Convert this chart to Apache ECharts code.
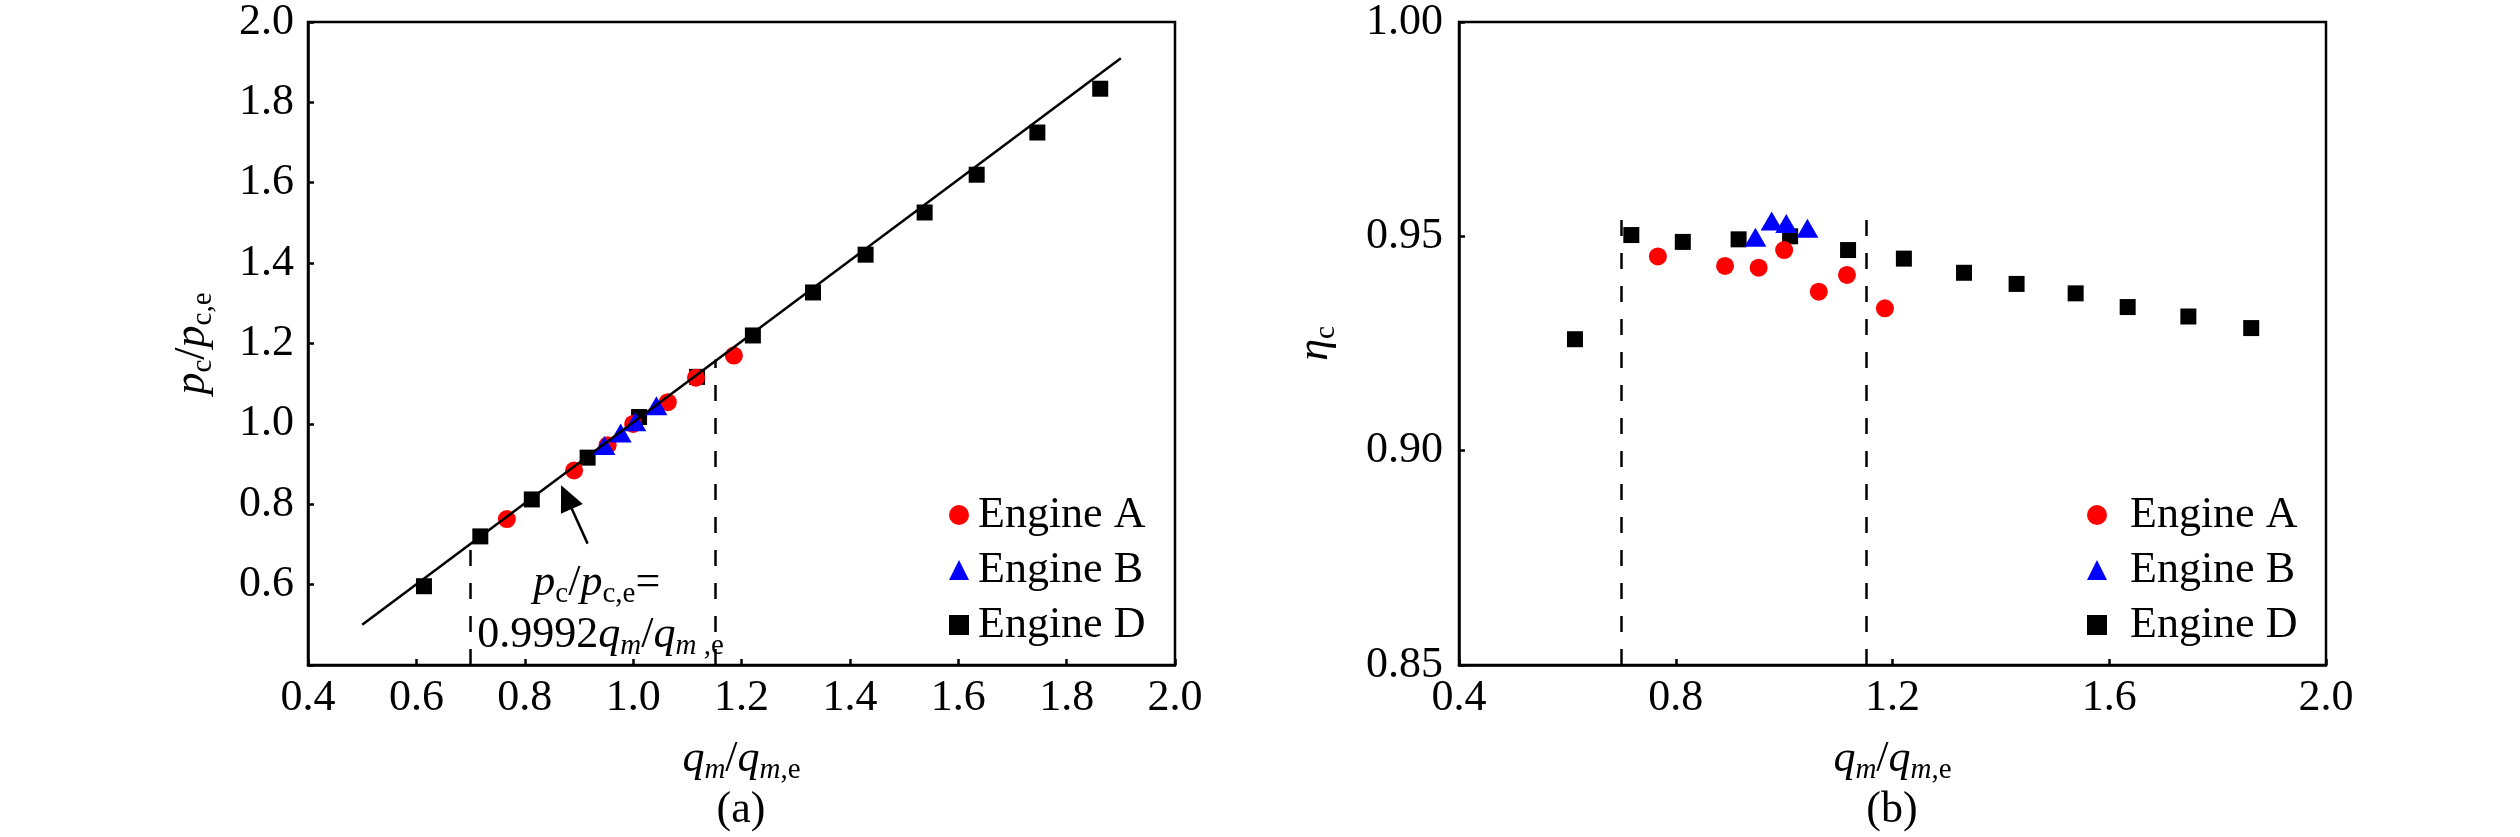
<!DOCTYPE html>
<html>
<head>
<meta charset="utf-8">
<title>qm/qm,e</title>
<script src="https://cdn.jsdelivr.net/npm/echarts/dist/echarts.min.js"></script>
<style>
html, body { margin: 0; padding: 0; background: #fff; }
#main { width: 2520px; height: 837px; }
</style>
</head>
<body>
<div id="main"></div>
<script>
// ---- data ----
var engineA_q = [0.767, 0.891, 0.953, 1.000, 1.064, 1.116, 1.186];
var engineA_p = [0.763, 0.884, 0.947, 1.000, 1.054, 1.115, 1.170];
var engineA_eta = [0.9453, 0.9431, 0.9427, 0.9468, 0.9371, 0.9410, 0.9332];

var engineB_q = [0.947, 0.977, 1.004, 1.043];
var engineB_p = [0.946, 0.977, 1.005, 1.045];
var engineB_eta = [0.9498, 0.9536, 0.9530, 0.9519];

var engineD_q = [0.614, 0.718, 0.813, 0.916, 1.011, 1.118, 1.221, 1.332, 1.429, 1.538, 1.634, 1.746, 1.862];
var engineD_p = [0.596, 0.720, 0.812, 0.916, 1.017, 1.117, 1.220, 1.327, 1.421, 1.526, 1.620, 1.725, 1.834];
var engineD_eta = [0.9260, 0.9503, 0.9487, 0.9493, 0.9500, 0.9468, 0.9448, 0.9415, 0.9389, 0.9367, 0.9335, 0.9313, 0.9286];

// fitted line p_c/p_c,e = 0.9992 q_m/q_m,e (end points as drawn)
var fit_q = [0.50, 1.90];
var fit_p = [0.50, 1.91];

// dashed limits of the operating range
var limit_q = [0.70, 1.152];
var limitTop_p = [0.69, 1.16];
var limitTop_eta = [0.9558, 0.9567];

// arrow of the annotation (tail, head)
var arrow_q = [0.916, 0.877];
var arrow_p = [0.702, 0.818];

var seriesNames = ['Engine A', 'Engine B', 'Engine D'];

var FONT = 'Liberation Serif';
var FS = 44;
var BLACK = '#000';

function pairs(xs, ys) {
	var res = [];
	for (var i = 0; i < xs.length; i++) {
		res.push([xs[i], ys[i]]);
	}
	return res;
}

// rich text styles (italic letters, small roman / italic subscripts)
var rich = {
	i: { fontFamily: FONT, fontSize: FS, fontStyle: 'italic', color: BLACK, lineHeight: 52 },
	n: { fontFamily: FONT, fontSize: FS, color: BLACK, lineHeight: 52 },
	s: { fontFamily: FONT, fontSize: 29, color: BLACK, lineHeight: 35, verticalAlign: 'bottom' },
	si: { fontFamily: FONT, fontSize: 29, fontStyle: 'italic', color: BLACK, lineHeight: 35, verticalAlign: 'bottom' }
};

var xName = '{i|q}{si|m}{n|/}{i|q}{si|m}{s|,e}';
var pName = '{i|p}{s|c}{n|/}{i|p}{s|c,e}';
var etaName = '{i|η}{s|c}';

function baseAxis(idx) {
	return {
		gridIndex: idx,
		axisLine: { show: true, onZero: false, lineStyle: { color: BLACK, width: 2.5 } },
		axisTick: { show: true, inside: true, length: 6, lineStyle: { color: BLACK, width: 2.5 } },
		splitLine: { show: false },
		axisLabel: { fontFamily: FONT, fontSize: FS, color: BLACK },
		nameTextStyle: { rich: rich }
	};
}

var xA = baseAxis(0);
xA.type = 'value'; xA.min = 0.4; xA.max = 2.0; xA.interval = 0.2;
xA.axisLabel.margin = 11;
xA.axisLabel.formatter = function (v) { return v.toFixed(1); };
xA.name = xName; xA.nameLocation = 'middle'; xA.nameGap = 68;

var yA = baseAxis(0);
yA.type = 'value'; yA.min = 0.4; yA.max = 2.0; yA.interval = 0.2;
yA.axisLabel.margin = 14;
yA.axisLabel.formatter = function (v) { return Math.abs(v - 0.4) < 1e-6 ? '' : v.toFixed(1); };
yA.name = pName; yA.nameLocation = 'middle'; yA.nameGap = 90; yA.nameRotate = 90;

var xB = baseAxis(1);
xB.type = 'value'; xB.min = 0.4; xB.max = 2.0; xB.interval = 0.4;
xB.axisLabel.margin = 11;
xB.axisLabel.formatter = function (v) { return v.toFixed(1); };
xB.name = xName; xB.nameLocation = 'middle'; xB.nameGap = 68;

var yB = baseAxis(1);
yB.type = 'value'; yB.min = 0.85; yB.max = 1.0; yB.interval = 0.05;
yB.axisLabel.margin = 16;
yB.axisLabel.formatter = function (v) { return v.toFixed(2); };
yB.name = etaName; yB.nameLocation = 'middle'; yB.nameGap = 118; yB.nameRotate = 90;

function scatter(name, idx, data, symbol, size, color) {
	return {
		name: name,
		type: 'scatter',
		xAxisIndex: idx,
		yAxisIndex: idx,
		symbol: symbol,
		symbolSize: size,
		itemStyle: { color: color, opacity: 1 },
		data: data,
		z: 2
	};
}

var dashStyle = { type: [16, 17], color: BLACK, width: 2.5 };

function limitLines(yMin, tops) {
	var res = [];
	for (var i = 0; i < limit_q.length; i++) {
		res.push([
			{ coord: [limit_q[i], yMin], lineStyle: dashStyle },
			{ coord: [limit_q[i], tops[i]], lineStyle: dashStyle }
		]);
	}
	return res;
}

var markA = limitLines(0.4, limitTop_p);
markA.push([
	{ coord: [arrow_q[0], arrow_p[0]], symbol: 'none', lineStyle: { type: 'solid', color: BLACK, width: 2.5 } },
	{ coord: [arrow_q[1], arrow_p[1]], symbol: 'triangle', symbolSize: [24, 26], lineStyle: { type: 'solid', color: BLACK, width: 2.5 } }
]);

var series = [
	// panel (a)
	scatter('Engine D', 0, pairs(engineD_q, engineD_p), 'rect', 16, BLACK),
	scatter('Engine A', 0, pairs(engineA_q, engineA_p), 'circle', 18, '#ff0000'),
	scatter('Engine B', 0, pairs(engineB_q, engineB_p), 'triangle', [22, 19], '#0000ff'),
	{
		name: 'fit',
		type: 'line',
		xAxisIndex: 0,
		yAxisIndex: 0,
		data: pairs(fit_q, fit_p),
		symbol: 'none',
		lineStyle: { color: BLACK, width: 2.5 },
		z: 3,
		markLine: {
			silent: true,
			animation: false,
			symbol: 'none',
			label: { show: false },
			data: markA
		}
	},
	// panel (b)
	scatter('Engine D', 1, pairs(engineD_q, engineD_eta), 'rect', 16, BLACK),
	scatter('Engine A', 1, pairs(engineA_q, engineA_eta), 'circle', 18, '#ff0000'),
	scatter('Engine B', 1, pairs(engineB_q, engineB_eta), 'triangle', [22, 19], '#0000ff'),
	{
		name: 'limits',
		type: 'line',
		xAxisIndex: 1,
		yAxisIndex: 1,
		data: [],
		markLine: {
			silent: true,
			animation: false,
			symbol: 'none',
			label: { show: false },
			data: limitLines(0.85, limitTop_eta)
		}
	}
];

function legend(left, pad) {
	return {
		orient: 'vertical',
		left: left,
		top: 488,
		itemWidth: 20,
		itemHeight: 20,
		itemGap: 11,
		selectedMode: false,
		data: seriesNames,
		textStyle: { fontFamily: FONT, fontSize: FS, color: BLACK, lineHeight: 44, padding: [0, 0, 0, pad] }
	};
}

var option = {
	animation: false,
	backgroundColor: '#fff',
	grid: [
		{ left: 308, top: 21, width: 867, height: 644, show: true, borderColor: BLACK, borderWidth: 2.5 },
		{ left: 1459, top: 21, width: 867, height: 644, show: true, borderColor: BLACK, borderWidth: 2.5 }
	],
	xAxis: [xA, xB],
	yAxis: [yA, yB],
	legend: [legend(944, 4), legend(2082, 18)],
	series: series
};

var myChart = echarts.init(document.getElementById('main'));
myChart.setOption(option);

// panel captions and the equation, placed from data coordinates
var c1 = myChart.convertToPixel({ gridIndex: 0 }, [0.933, 0.604]);
var c2 = myChart.convertToPixel({ gridIndex: 0 }, [0.940, 0.474]);
myChart.setOption({
	graphic: [
		{ type: 'text', x: 741, y: 810, style: { text: '(a)', font: FS + 'px "' + FONT + '"', fill: BLACK, align: 'center', verticalAlign: 'middle' } },
		{ type: 'text', x: 1892, y: 810, style: { text: '(b)', font: FS + 'px "' + FONT + '"', fill: BLACK, align: 'center', verticalAlign: 'middle' } },
		{ type: 'text', x: c1[0], y: c1[1], style: { text: '{i|p}{s|c}{n|/}{i|p}{s|c,e}{n|=}', rich: rich, align: 'center', verticalAlign: 'middle' } },
		{ type: 'text', x: c2[0], y: c2[1], style: { text: '{n|0.9992}{i|q}{si|m}{n|/}{i|q}{si|m }{s|,e}', rich: rich, align: 'center', verticalAlign: 'middle' } }
	]
});
</script>
</body>
</html>
